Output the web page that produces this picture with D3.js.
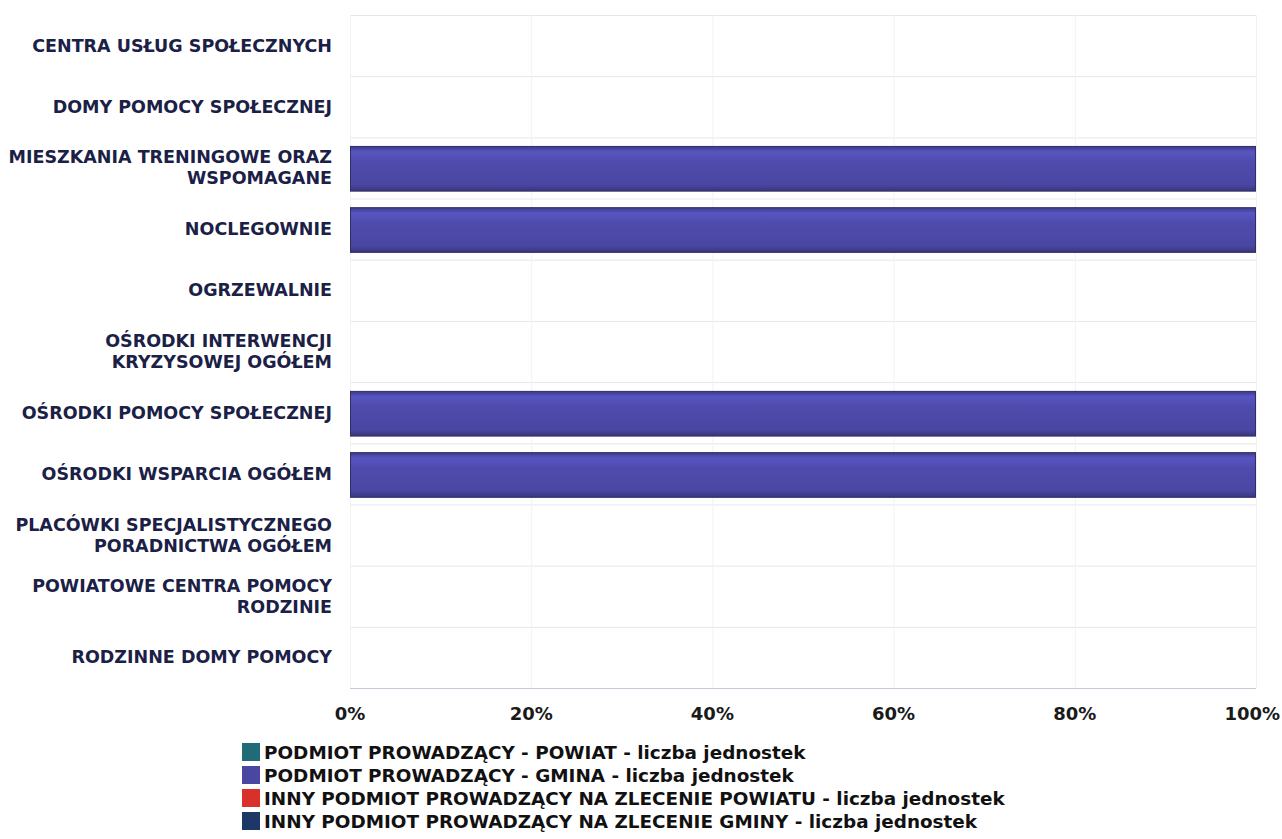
<!DOCTYPE html>
<html>
<head>
<meta charset="utf-8">
<script src="https://cdn.jsdelivr.net/npm/d3@7"></script>
<style>
  body { margin: 0; background: #fff; }
  text { font-family: "DejaVu Sans", sans-serif; }
</style>
</head>
<body>
<div id="chart"></div>
<script>
// kategorie (oś Y)
const categories = [
    ["CENTRA USŁUG SPOŁECZNYCH"],
    ["DOMY POMOCY SPOŁECZNEJ"],
    ["MIESZKANIA TRENINGOWE ORAZ", "WSPOMAGANE"],
    ["NOCLEGOWNIE"],
    ["OGRZEWALNIE"],
    ["OŚRODKI INTERWENCJI", "KRYZYSOWEJ OGÓŁEM"],
    ["OŚRODKI POMOCY SPOŁECZNEJ"],
    ["OŚRODKI WSPARCIA OGÓŁEM"],
    ["PLACÓWKI SPECJALISTYCZNEGO", "PORADNICTWA OGÓŁEM"],
    ["POWIATOWE CENTRA POMOCY", "RODZINIE"],
    ["RODZINNE DOMY POMOCY"]
];

// serie - liczba jednostek
const seriesNames = [
    "PODMIOT PROWADZĄCY - POWIAT - liczba jednostek",
    "PODMIOT PROWADZĄCY - GMINA - liczba jednostek",
    "INNY PODMIOT PROWADZĄCY NA ZLECENIE POWIATU - liczba jednostek",
    "INNY PODMIOT PROWADZĄCY NA ZLECENIE GMINY - liczba jednostek"
];
const powiat      = [0, 0, 0, 0, 0, 0, 0, 0, 0, 0, 0];
const gmina       = [0, 0, 1, 1, 0, 0, 1, 1, 0, 0, 0];
const innyPowiat  = [0, 0, 0, 0, 0, 0, 0, 0, 0, 0, 0];
const innyGmina   = [0, 0, 0, 0, 0, 0, 0, 0, 0, 0, 0];
const seriesColors = ["#1f6b78", "#4a47a3", "#d9302b", "#1d3767"];
const tickValues = [0, 0.2, 0.4, 0.6, 0.8, 1];

const width = 1282, height = 839;
const plotLeft = 350, plotRight = 1256, plotTop = 15, plotBottom = 688;

const svg = d3.select("#chart").append("svg")
    .attr("width", width)
    .attr("height", height);

// gradienty dla słupków
const defs = svg.append("defs");
seriesColors.forEach((c, i) => {
    const g = defs.append("linearGradient")
        .attr("id", "grad" + i)
        .attr("x1", 0).attr("y1", 0).attr("x2", 0).attr("y2", 1);
    g.append("stop").attr("offset", "0%").attr("stop-color", d3.color(c).darker(0.6));
    g.append("stop").attr("offset", "12%").attr("stop-color", d3.color(c).brighter(0.5));
    g.append("stop").attr("offset", "35%").attr("stop-color", d3.color(c).brighter(0.15));
    g.append("stop").attr("offset", "85%").attr("stop-color", c);
    g.append("stop").attr("offset", "100%").attr("stop-color", d3.color(c).darker(0.8));
});

const x = d3.scaleLinear().domain([0, 1]).range([plotLeft, plotRight]);
const y = d3.scaleBand().domain(d3.range(categories.length)).range([plotTop, plotBottom]).paddingInner(0.27).paddingOuter(0.13);
const yGrid = d3.scaleBand().domain(d3.range(categories.length)).range([plotTop, plotBottom]);

// siatka pozioma
svg.append("g").selectAll("line")
    .data(d3.range(categories.length))
    .join("line")
    .attr("x1", plotLeft).attr("x2", plotRight)
    .attr("y1", d => yGrid(d) + 0.5).attr("y2", d => yGrid(d) + 0.5)
    .attr("stroke", "#e6e6e6");

// siatka pionowa
svg.append("g").selectAll("line")
    .data(tickValues)
    .join("line")
    .attr("x1", d => x(d) + 0.5).attr("x2", d => x(d) + 0.5)
    .attr("y1", plotTop).attr("y2", plotBottom)
    .attr("stroke", "#f2f2f2");

// dane skumulowane 100%
const rows = categories.map((c, i) => {
    const vals = [powiat[i], gmina[i], innyPowiat[i], innyGmina[i]];
    const total = d3.sum(vals);
    return vals.map(v => total ? v / total : 0);
});

rows.forEach((vals, i) => {
    let acc = 0;
    vals.forEach((v, s) => {
        if (v > 0) {
            svg.append("rect")
                .attr("x", x(acc) + 0.5)
                .attr("y", y(i) + 1)
                .attr("width", x(acc + v) - x(acc) - 1)
                .attr("height", y.bandwidth())
                .attr("fill", "url(#grad" + s + ")")
                .attr("stroke", d3.color(seriesColors[s]).darker(1.2))
                .attr("stroke-width", 1);
        }
        acc += v;
    });
});

// oś X
svg.append("line")
    .attr("x1", plotLeft).attr("x2", plotRight)
    .attr("y1", plotBottom + 0.5).attr("y2", plotBottom + 0.5)
    .attr("stroke", "#c8c8d8");

svg.append("g").selectAll("text")
    .data(tickValues)
    .join("text")
    .attr("x", d => d === 1 ? width - 2 : x(d))
    .attr("y", 720)
    .attr("text-anchor", d => d === 1 ? "end" : "middle")
    .attr("font-size", 18)
    .attr("font-weight", 700)
    .attr("fill", "#1a1a1a")
    .text(d => d3.format(".0%")(d));

// etykiety kategorii
const labels = svg.append("g").selectAll("text")
    .data(categories)
    .join("text")
    .attr("text-anchor", "end")
    .attr("font-size", 17.5)
    .attr("font-weight", 700)
    .attr("fill", "#1b2046");
labels.each(function (lines, i) {
    const cy = yGrid(i) + yGrid.bandwidth() / 2;
    const lh = 21;
    const start = cy - (lines.length - 1) * lh / 2 + 6;
    d3.select(this).selectAll("tspan")
        .data(lines)
        .join("tspan")
        .attr("x", 332)
        .attr("y", (d, k) => start + k * lh)
        .text(d => d);
});

// legenda
const legend = svg.append("g");
seriesNames.forEach((name, i) => {
    const ly = 752 + i * 23;
    legend.append("rect")
        .attr("x", 242).attr("y", ly - 9)
        .attr("width", 18).attr("height", 18)
        .attr("fill", seriesColors[i]);
    legend.append("text")
        .attr("x", 264).attr("y", ly + 7)
        .attr("font-size", 18.4)
        .attr("font-weight", 700)
        .attr("fill", "#111")
        .text(name);
});
</script>
</body>
</html>
